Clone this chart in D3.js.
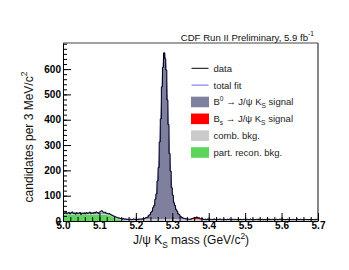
<!DOCTYPE html>
<html>
<head>
<meta charset="utf-8">
<script src="https://cdn.jsdelivr.net/npm/d3@7"></script>
<style>
  body { margin: 0; background: #fff; }
  text { font-family: "Liberation Sans", Arial, Helvetica, sans-serif; }
</style>
</head>
<body>
<svg id="chart" width="349" height="270"></svg>
<script>
// J/psi Ks mass, 3 MeV bins starting at 5.000 GeV/c^2

var binStart = 5.0, binWidth = 0.003;

// data: candidates per bin
var counts = [
  33, 30, 35, 29, 31, 34, 28, 32, 36, 30, 31, 27, 33, 29, 30, 34, 26, 31, 29, 32,
  28, 33, 30, 31, 35, 29, 32, 30, 34, 31, 36, 33, 30, 35, 38, 41, 36, 33, 35, 31,
  30, 28, 29, 25, 24, 21, 19, 17, 15, 14, 12, 11, 10, 9, 8, 9, 7, 8, 6, 7,
  6, 7, 5, 6, 8, 7, 6, 7, 5, 8,
  7, 8, 7, 10, 9, 12, 14, 15, 23, 24, 34, 38, 53, 61, 86, 107, 158, 211, 312, 403,
  530, 607, 664, 641, 596, 478, 381, 266, 197, 131, 102, 72, 61, 45, 39, 28, 25, 17, 16, 12,
  11, 10, 8, 9, 7, 6,
  7, 8, 10, 11, 14, 13, 16, 12, 13, 9, 8, 9, 6,
  6, 7, 5, 8, 6, 7, 6, 5, 7, 8, 6, 5, 7, 6, 8, 7, 5, 6, 7, 6,
  5, 7, 6, 8, 6, 5, 7, 6, 7, 5, 6, 8, 6, 7, 5, 6, 7, 6, 5, 7,
  6, 5, 8, 6, 7, 6, 5, 6, 7, 5, 8, 6, 6, 7, 5, 6, 5, 7, 6, 8,
  5, 6, 7, 6, 5, 6, 7, 5, 6, 8, 6, 5, 7, 6, 5, 6, 7, 5, 6, 6,
  5, 7, 6, 5, 6, 8, 5, 6, 7, 5, 6, 5, 7, 6, 6, 5, 6, 7, 5, 6,
  6, 5, 7, 6
];

// fit components sampled at these masses
var fitMass = [
  5.000, 5.025, 5.050, 5.075, 5.100, 5.110, 5.120, 5.130, 5.140, 5.150, 5.160, 5.170, 5.180, 5.195,
  5.2085, 5.2185, 5.2285, 5.2335, 5.2385, 5.2435, 5.2485, 5.2515, 5.2545, 5.2575, 5.2605, 5.2635,
  5.2665, 5.2695, 5.2725, 5.2755, 5.2785, 5.2815, 5.2845, 5.2875, 5.2905, 5.2935, 5.2965, 5.2995,
  5.3025, 5.3055, 5.3085, 5.3135, 5.3185, 5.3235, 5.3285, 5.3385,
  5.348, 5.354, 5.360, 5.366, 5.372, 5.378, 5.384,
  5.400, 5.450, 5.500, 5.550, 5.600, 5.650, 5.700
];
var partReco = [
  24, 25, 24, 25, 25, 25, 24, 20, 13, 7, 3, 1, 0, 0,
  0, 0, 0, 0, 0, 0, 0, 0, 0, 0, 0, 0, 0, 0, 0, 0, 0, 0, 0, 0, 0, 0, 0, 0, 0, 0, 0, 0, 0, 0, 0, 0,
  0, 0, 0, 0, 0, 0, 0,
  0, 0, 0, 0, 0, 0, 0
];
var combBkg = [
  6.9, 6.9, 6.8, 6.8, 6.7, 6.7, 6.7, 6.7, 6.6, 6.6, 6.6, 6.6, 6.6, 6.5,
  6.5, 6.5, 6.5, 6.5, 6.5, 6.4, 6.4, 6.4, 6.4, 6.4, 6.4, 6.4, 6.4, 6.4, 6.4, 6.4,
  6.4, 6.4, 6.4, 6.4, 6.4, 6.4, 6.4, 6.4, 6.4, 6.4, 6.4, 6.3, 6.3, 6.3, 6.3, 6.3,
  6.3, 6.3, 6.3, 6.3, 6.3, 6.3, 6.2,
  6.2, 6.1, 6.0, 6.0, 5.9, 5.9, 5.8
];
var bsSignal = [
  0, 0, 0, 0, 0, 0, 0, 0, 0, 0, 0, 0, 0, 0,
  0, 0, 0, 0, 0, 0, 0, 0, 0, 0, 0, 0, 0, 0, 0, 0, 0, 0, 0, 0, 0, 0, 0, 0, 0, 0, 0, 0, 0, 0, 0, 0,
  0.6, 2.6, 6, 8, 6, 2.6, 0.6,
  0, 0, 0, 0, 0, 0, 0
];
var b0Signal = [
  0, 0, 0, 0, 0, 0, 0, 0, 0, 0, 0, 0, 0, 0,
  0.3, 1.6, 6.1, 11.2, 19, 30, 47.5, 62, 83, 115, 164, 235, 331, 442, 550, 630,
  660, 630, 550, 442, 331, 235, 164, 115, 83, 62, 47.5, 30, 19, 11.2, 6.1, 1.6,
  0.3, 0, 0, 0, 0, 0, 0,
  0, 0, 0, 0, 0, 0, 0
];

var xTicks = [5.0, 5.1, 5.2, 5.3, 5.4, 5.5, 5.6, 5.7];
var yTicks = [0, 100, 200, 300, 400, 500, 600];

var legendEntries = [
  ["data"],
  ["total fit"],
  ["B", {sup: "0"}, " \u2192 J/\u03C8 K", {sub: "S"}, " signal"],
  ["B", {sub: "s"}, " \u2192 J/\u03C8 K", {sub: "S"}, " signal"],
  ["comb. bkg."],
  ["part. recon. bkg."]
];

var colData = "#000", colFit = "#6b6bf0", colB0 = "#7f7f9e", colBs = "#ff0000",
    colComb = "#cbcbcb", colPart = "#5bd65b";

var svg = d3.select("#chart");

var x = d3.scaleLinear().domain([5.0, 5.7]).range([63, 318]);
var y = d3.scaleLinear().domain([0, 703]).range([221, 43]);

// stacked levels of the fit
var lvl1 = partReco.slice();
var lvl2 = lvl1.map((v, i) => v + combBkg[i]);
var lvl3 = lvl2.map((v, i) => v + bsSignal[i]);
var lvl4 = lvl3.map((v, i) => v + b0Signal[i]);

function band(lo, hi) {
  return d3.area()
    .x((d, i) => x(fitMass[i]))
    .y0((d, i) => y(lo[i]))
    .y1((d, i) => y(hi[i]))
    .curve(d3.curveMonotoneX)(fitMass);
}
var zero = fitMass.map(() => 0);

var plot = svg.append("g");
plot.append("path").attr("d", band(lvl3, lvl4)).attr("fill", colB0);
plot.append("path").attr("d", band(lvl2, lvl3)).attr("fill", colBs);
plot.append("path").attr("d", band(lvl1, lvl2)).attr("fill", colComb);
plot.append("path").attr("d", band(zero, lvl1)).attr("fill", colPart);

// total fit
plot.append("path")
  .attr("d", d3.line()
    .x((d, i) => x(fitMass[i]))
    .y((d, i) => y(lvl4[i]))
    .curve(d3.curveMonotoneX)(fitMass))
  .attr("fill", "none")
  .attr("stroke", colFit)
  .attr("stroke-width", 1);

// data histogram
var steps = counts.map((c, i) => [binStart + i * binWidth, c]);
steps.push([binStart + counts.length * binWidth, counts[counts.length - 1]]);
plot.append("path")
  .attr("d", d3.line()
    .x(d => x(Math.min(d[0], 5.7)))
    .y(d => y(d[1]))
    .curve(d3.curveStepAfter)(steps))
  .attr("fill", "none")
  .attr("stroke", colData)
  .attr("stroke-width", 1);

// frame top / right
svg.append("line").attr("x1", 63).attr("x2", 318).attr("y1", 43).attr("y2", 43)
  .attr("stroke", "#444").attr("stroke-width", 1);
svg.append("line").attr("x1", 318).attr("x2", 318).attr("y1", 43).attr("y2", 221)
  .attr("stroke", "#444").attr("stroke-width", 1.3);

// y axis, ticks inside
svg.append("g")
  .attr("transform", "translate(63,0)")
  .call(d3.axisLeft(y).tickValues(d3.range(0, 701, 20)).tickSize(-4))
  .call(g => g.select(".domain").remove())
  .call(g => g.selectAll("text").remove());
var yAx = svg.append("g")
  .attr("transform", "translate(63,0)")
  .call(d3.axisLeft(y).tickValues(yTicks).tickSize(-8).tickPadding(2).tickSizeOuter(0));
yAx.selectAll("text").attr("font-size", "10px").attr("font-weight", "bold")
  .attr("fill", "#000").attr("font-family", null);

// x axis, ticks inside
svg.append("g")
  .attr("transform", "translate(0,221)")
  .call(d3.axisBottom(x).tickValues(d3.range(5.0, 5.701, 0.02)).tickSize(-4))
  .call(g => g.select(".domain").remove())
  .call(g => g.selectAll("text").remove());
var xAx = svg.append("g")
  .attr("transform", "translate(0,221)")
  .call(d3.axisBottom(x).tickValues(xTicks).tickSize(-8).tickPadding(1).tickSizeOuter(0)
    .tickFormat(d3.format(".1f")));
xAx.selectAll("text").attr("font-size", "10px").attr("font-weight", "bold")
  .attr("fill", "#000").attr("font-family", null);

svg.selectAll(".tick line").attr("stroke", "#000");

// helper: write text pieces with sub/superscripts
function richText(t, parts, size) {
  var shift = 0;
  parts.forEach(p => {
    var s = t.append("tspan");
    if (typeof p === "string") {
      s.attr("font-size", size + "px").attr("dy", -shift).text(p);
      shift = 0;
    } else if (p.sup) {
      var d = -size * 0.45;
      s.attr("font-size", (size * 0.7) + "px").attr("dy", d - shift).text(p.sup);
      shift = d;
    } else if (p.sub) {
      var d2 = size * 0.3;
      s.attr("font-size", (size * 0.7) + "px").attr("dy", d2 - shift).text(p.sub);
      shift = d2;
    }
  });
}

// title
var title = svg.append("text").attr("x", 314).attr("y", 40.5).attr("text-anchor", "end").attr("fill", "#111");
richText(title, ["CDF Run II Preliminary, 5.9 fb", {sup: "-1"}], 9.6);

// axis titles
var xt = svg.append("text").attr("x", 191).attr("y", 244).attr("text-anchor", "middle").attr("fill", "#111");
richText(xt, ["J/\u03C8 K", {sub: "S"}, " mass (GeV/c", {sup: "2"}, ")"], 12);

var yt = svg.append("text").attr("transform", "translate(32.5,137) rotate(-90)")
  .attr("text-anchor", "middle").attr("fill", "#111");
richText(yt, ["candidates per 3 MeV/c", {sup: "2"}], 12);

// legend
var legRowY = d3.scaleLinear().domain([0, 5]).range([68.3, 152.5]);
var legColors = [colData, colFit, colB0, colBs, colComb, colPart];
legendEntries.forEach((parts, i) => {
  var cy = legRowY(i);
  if (i < 2) {
    svg.append("line").attr("x1", 191.5).attr("x2", 208.5).attr("y1", cy).attr("y2", cy)
      .attr("stroke", legColors[i]).attr("stroke-width", 1);
  } else {
    svg.append("rect").attr("x", 191).attr("y", cy - 5.3).attr("width", 18).attr("height", 10.6)
      .attr("fill", legColors[i]);
  }
  var t = svg.append("text").attr("x", 213.5).attr("y", cy + 3.5).attr("fill", "#222");
  richText(t, parts, 9.5);
});
</script>
</body>
</html>
